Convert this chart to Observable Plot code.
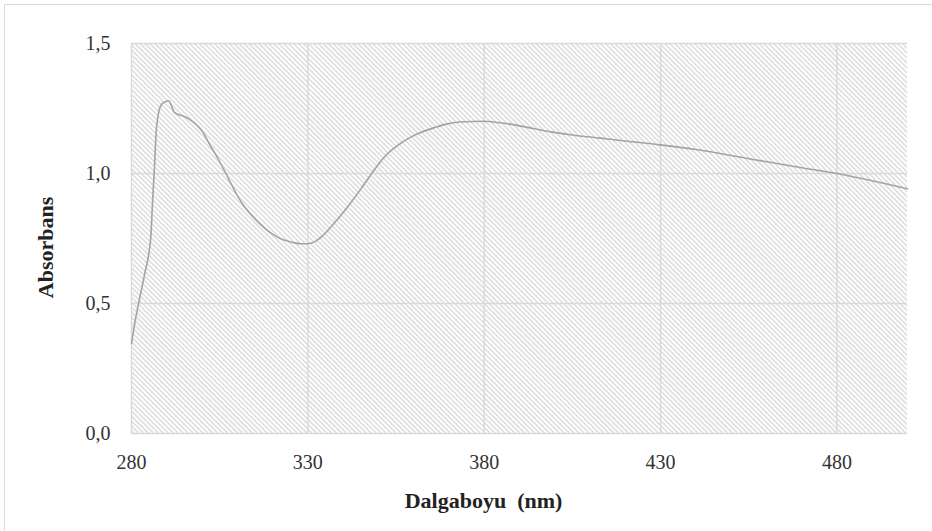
<!DOCTYPE html>
<html><head><meta charset="utf-8">
<script src="https://cdn.jsdelivr.net/npm/d3@7"></script>
<script src="https://cdn.jsdelivr.net/npm/@observablehq/plot@0.6"></script>
<style>
html,body{margin:0;padding:0;background:#fff;}
#wrap{position:relative;width:932px;height:531px;overflow:hidden;}
#border{position:absolute;left:4px;top:4px;right:-10px;bottom:-10px;border:1px solid #d9d9d9;pointer-events:none;}
</style></head><body><div id="wrap"><div id="border"></div></div>
<script>
const wavelength = [280, 281, 282, 283, 284, 285, 285.5, 286, 286.5, 287, 287.5, 288, 289, 290, 290.6, 291.3, 292, 293, 294.5, 296, 297.5, 299, 300.5, 302, 304, 306, 308, 310, 312, 314, 316, 318, 320, 322, 324, 326, 328, 330, 332, 334, 337, 340, 342, 345, 348, 350, 352.5, 356, 359, 362, 366, 369, 373, 380, 384, 389, 394, 399, 405, 413, 420, 430, 440, 455, 470, 480, 490, 500];
const absorbance = [0.346, 0.43, 0.50, 0.565, 0.63, 0.70, 0.76, 0.90, 1.02, 1.16, 1.22, 1.252, 1.272, 1.278, 1.28, 1.262, 1.238, 1.228, 1.222, 1.212, 1.198, 1.18, 1.153, 1.115, 1.07, 1.02, 0.967, 0.915, 0.873, 0.84, 0.812, 0.787, 0.767, 0.751, 0.741, 0.734, 0.730, 0.730, 0.738, 0.758, 0.802, 0.85, 0.885, 0.94, 0.998, 1.036, 1.075, 1.113, 1.139, 1.158, 1.177, 1.189, 1.198, 1.201, 1.196, 1.186, 1.173, 1.16, 1.148, 1.136, 1.125, 1.110, 1.092, 1.057, 1.022, 1.0, 0.972, 0.941];
const xTicks = [280, 330, 380, 430, 480];
const yTicks = [0, 0.5, 1.0, 1.5];
const xLabel = "Dalgaboyu  (nm)";
const yLabel = "Absorbans";

const data = wavelength.map((w, i) => ({w, a: absorbance[i]}));
const commaFmt = d => d3.format(".1f")(d).replace(".", ",");

const hatch = (index, scales, values, dims) => {
  const g = d3.create("svg:g");
  const pat = g.append("defs").append("pattern")
    .attr("id", "hatch-bg").attr("patternUnits", "userSpaceOnUse")
    .attr("width", 3.5).attr("height", 10)
    .attr("patternTransform", "rotate(-45)");
  pat.append("rect").attr("width", 3.5).attr("height", 10).attr("fill", "#fff");
  pat.append("line").attr("x1", 1.75).attr("x2", 1.75).attr("y1", -1).attr("y2", 11)
    .attr("stroke", "#d0d0d0").attr("stroke-width", 1.15);
  const x0 = scales.x(280), x1 = scales.x(500);
  const y0 = scales.y(1.5), y1 = scales.y(0);
  g.append("rect").attr("x", x0).attr("y", y0).attr("width", x1 - x0).attr("height", y1 - y0)
    .attr("fill", "url(#hatch-bg)");
  return g.node();
};

const chart = Plot.plot({
  width: 932, height: 531,
  marginLeft: 131, marginRight: 25, marginTop: 43, marginBottom: 98,
  style: {fontFamily: "'Liberation Serif', 'Times New Roman', serif", fontSize: "20px", color: "#333", background: "transparent", overflow: "visible"},
  x: {domain: [280, 500], label: null},
  y: {domain: [0, 1.5], label: null},
  marks: [
    hatch,
    Plot.gridX(xTicks, {stroke: "#d9d9d9", strokeOpacity: 1, strokeWidth: 1.4}),
    Plot.gridY(yTicks, {stroke: "#d9d9d9", strokeOpacity: 1, strokeWidth: 1.4}),
    Plot.axisX(xTicks, {tickSize: 0, tickPadding: 21, fontSize: 20, label: null}),
    Plot.axisY(yTicks, {tickSize: 0, tickPadding: 21, fontSize: 20, label: null, tickFormat: commaFmt}),
    Plot.line(data, {x: "w", y: "a", stroke: "#a3a3a3", strokeWidth: 1.6, curve: "monotone-x"}),
    Plot.text([xLabel], {frameAnchor: "bottom", lineAnchor: "middle", textAnchor: "middle", dy: 67, dx: -36, fontWeight: "bold", fontSize: 22, fill: "#222"}),
    Plot.text([yLabel], {frameAnchor: "left", lineAnchor: "middle", textAnchor: "middle", rotate: -90, dx: -86, dy: 9, fontWeight: "bold", fontSize: 22, fill: "#222"})
  ]
});
document.getElementById("wrap").appendChild(chart);
</script>
</body></html>
